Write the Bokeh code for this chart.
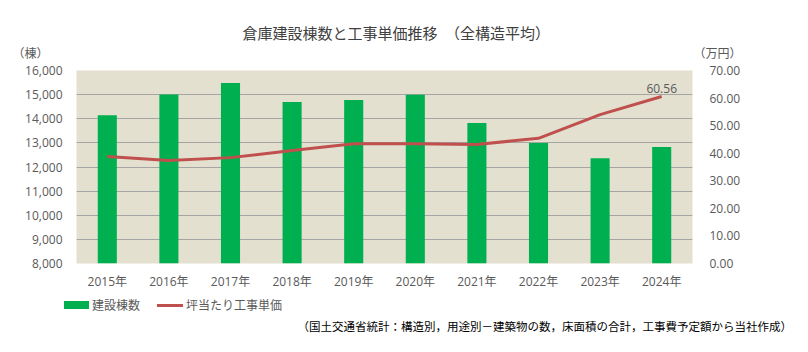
from bokeh.plotting import figure
from bokeh.layouts import column
from bokeh.models import (Range1d, LinearAxis, Title, Div,
                          NumeralTickFormatter, ColumnDataSource, FactorRange, FixedTicker)
from bokeh.core.properties import value
from bokeh.embed import file_html
from bokeh.resources import INLINE

years = ["2015年", "2016年", "2017年", "2018年", "2019年",
         "2020年", "2021年", "2022年", "2023年", "2024年"]
buildings = [14140, 15010, 15480, 14690, 14780, 14990, 13820, 12990, 12360, 12830]
unit_price = [38.8, 37.4, 38.4, 41.0, 43.4, 43.4, 43.2, 45.4, 54.0, 60.56]

title_main = "倉庫建設棟数と工事単価推移　（全構造平均）"
left_unit = "（棟）"
right_unit = "（万円）"
bar_name = "建設棟数"
line_name = "坪当たり工事単価"
source_note = "（国土交通省統計：構造別，用途別－建築物の数，床面積の合計，工事費予定額から当社作成）"

FONT = "'Open Sans', 'Noto Sans CJK JP'"
JFONT = "'Noto Sans CJK JP'"
GRAY = "#595959"
GREEN = "#00B050"
RED = "#C0504D"

src = ColumnDataSource(dict(x=years, b=buildings, p=unit_price))

p = figure(width=808, height=292, output_backend="svg", toolbar_location=None,
           x_range=FactorRange(*years, range_padding=0),
           y_range=Range1d(8000, 16000),
           min_border_left=76, min_border_right=116,
           min_border_top=70, min_border_bottom=29,
           background_fill_color="#E4E0D0", border_fill_color="white",
           outline_line_color=None)
p.extra_y_ranges = {"price": Range1d(0, 70)}
p.title.visible = False

p.xgrid.grid_line_color = None
p.ygrid.grid_line_color = "#A5A5A5"
p.ygrid.grid_line_width = 1

p.vbar(x="x", top="b", bottom=8000, width=0.31, source=src,
       fill_color=GREEN, line_color=None)
p.line(x="x", y="p", source=src, y_range_name="price",
       line_color=RED, line_width=3)

# axes
p.yaxis.formatter = NumeralTickFormatter(format="0,0")
p.yaxis.ticker = FixedTicker(ticks=list(range(8000, 16001, 1000)))
ax_r = LinearAxis(y_range_name="price", formatter=NumeralTickFormatter(format="0.00"),
                  ticker=FixedTicker(ticks=list(range(0, 71, 10))))
p.add_layout(ax_r, "right")

for ax in [p.xaxis[0], p.yaxis[0], ax_r]:
    ax.axis_line_color = None
    ax.major_tick_line_color = None
    ax.minor_tick_line_color = None
    ax.major_label_text_color = GRAY
    ax.major_label_text_font = FONT
    ax.major_label_text_font_size = "12px"
    ax.major_label_standoff = 11
p.yaxis[0].major_label_standoff = 8
p.xaxis.major_label_standoff = 3

# value label for the last point
p.text(x=[years[-1]], y=[unit_price[-1]], text=[f"{unit_price[-1]:.2f}"],
       y_range_name="price", text_align="center", text_baseline="bottom",
       y_offset=-4, text_font=value(FONT), text_font_size="12px", text_color=GRAY)

# unit labels row (closest to frame), then main title row
units_text = left_unit + "\u3000" * 54 + "\u2005" + right_unit
p.add_layout(Title(text=units_text, align="left", offset=-64, standoff=20,
                   text_font=JFONT, text_font_size="12px", text_color=GRAY,
                   text_font_style="normal"), "above")
p.add_layout(Title(text=title_main, align="left", offset=166, standoff=-22,
                   text_font=JFONT, text_font_size="15px", text_color="#404040",
                   text_font_style="normal"), "above")

# lower strip: legend and source note
abs_ = "position:absolute;white-space:nowrap;line-height:16px;"
html = (
    f"<div style=\"position:relative;width:808px;height:60px;"
    f"font-family:{JFONT};font-size:12px;\">"
    f"<div style=\"{abs_}left:59px;top:4px;width:25px;height:8px;background:{GREEN};\"></div>"
    f"<span style=\"{abs_}left:87px;top:0px;color:{GRAY};\">{bar_name}</span>"
    f"<div style=\"{abs_}left:152px;top:7px;width:26px;height:3px;background:{RED};\"></div>"
    f"<span style=\"{abs_}left:181px;top:0px;color:{GRAY};\">{line_name}</span>"
    f"<span style=\"{abs_}right:21px;top:21px;color:#000000;font-size:11.5px;\">{source_note}</span>"
    f"</div>"
)
strip = Div(text=html, width=808, height=60)

open("out.html", "w").write(file_html(column(p, strip, spacing=0), INLINE))
